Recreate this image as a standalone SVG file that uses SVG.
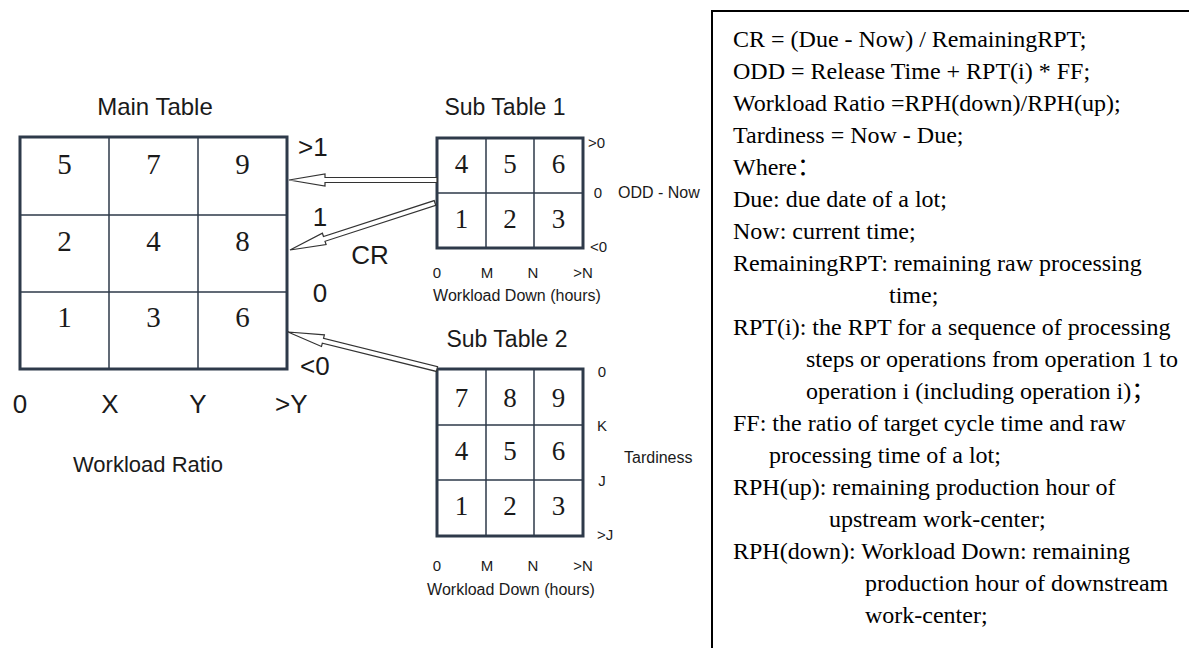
<svg xmlns="http://www.w3.org/2000/svg" width="1189" height="648" viewBox="0 0 1189 648">
<style>
.lbl{font-family:"Liberation Sans",Arial,sans-serif;fill:#1a1a1a}
.num{font-family:"Liberation Serif","Times New Roman",serif;fill:#1a1a1a;text-anchor:middle}
.frame{fill:#fff;stroke:#2e3a4a;stroke-width:3}
.grid{stroke:#2e3a4a;stroke-width:1.5;fill:none}
.arrow{fill:#fff;stroke:#333;stroke-width:1.2;stroke-linejoin:miter}
.txt{font-family:"Liberation Serif","Times New Roman","Noto Sans CJK SC",serif;font-size:24px;fill:#000}
</style>
<rect width="1189" height="648" fill="#fff"/>

<g id="main-table">
<text class="lbl" x="155" y="115" font-size="24" text-anchor="middle">Main Table</text>
<rect class="frame" x="20" y="137" width="267" height="232"/>
<path class="grid" d="M109 137V369M198 137V369M20 215H287M20 292H287"/>
<g class="num" font-size="29">
<text x="64.5" y="174">5</text><text x="153.5" y="174">7</text><text x="242.5" y="174">9</text>
<text x="64.5" y="251">2</text><text x="153.5" y="251">4</text><text x="242.5" y="251">8</text>
<text x="64.5" y="327">1</text><text x="153.5" y="327">3</text><text x="242.5" y="327">6</text>
</g>
<g class="lbl" font-size="26">
<text x="298" y="156">&gt;1</text>
<text x="320" y="226" text-anchor="middle">1</text>
<text x="370" y="264" text-anchor="middle">CR</text>
<text x="320" y="302" text-anchor="middle">0</text>
<text x="300" y="375">&lt;0</text>
<text x="20" y="413" text-anchor="middle">0</text>
<text x="110" y="413" text-anchor="middle">X</text>
<text x="198" y="413" text-anchor="middle">Y</text>
<text x="275" y="413">&gt;Y</text>
</g>
<text class="lbl" x="148" y="472" font-size="22" text-anchor="middle">Workload Ratio</text>
</g>

<g id="sub-table-1">
<text class="lbl" x="505" y="115" font-size="23" text-anchor="middle">Sub Table 1</text>
<rect class="frame" x="437" y="138" width="146" height="110"/>
<path class="grid" d="M486 138V248M534 138V248M437 193H583"/>
<g class="num" font-size="27">
<text x="461.5" y="173">4</text><text x="510" y="173">5</text><text x="558.5" y="173">6</text>
<text x="461.5" y="228">1</text><text x="510" y="228">2</text><text x="558.5" y="228">3</text>
</g>
<g class="lbl" font-size="15">
<text x="588" y="148">&gt;0</text>
<text x="598" y="198" text-anchor="middle">0</text>
<text x="618" y="198" font-size="16">ODD - Now</text>
<text x="590" y="252">&lt;0</text>
<text x="437" y="278" text-anchor="middle">0</text>
<text x="487" y="278" text-anchor="middle">M</text>
<text x="533" y="278" text-anchor="middle">N</text>
<text x="583" y="278" text-anchor="middle">&gt;N</text>
</g>
<text class="lbl" x="517" y="301" font-size="16" text-anchor="middle">Workload Down (hours)</text>
</g>

<g id="sub-table-2">
<text class="lbl" x="507" y="347" font-size="23" text-anchor="middle">Sub Table 2</text>
<rect class="frame" x="437" y="369" width="146" height="167"/>
<path class="grid" d="M486 369V536M534 369V536M437 425H583M437 480H583"/>
<g class="num" font-size="27">
<text x="461.5" y="407">7</text><text x="510" y="407">8</text><text x="558.5" y="407">9</text>
<text x="461.5" y="460">4</text><text x="510" y="460">5</text><text x="558.5" y="460">6</text>
<text x="461.5" y="515">1</text><text x="510" y="515">2</text><text x="558.5" y="515">3</text>
</g>
<g class="lbl" font-size="15">
<text x="602" y="377" text-anchor="middle">0</text>
<text x="602" y="431" text-anchor="middle">K</text>
<text x="602" y="486" text-anchor="middle">J</text>
<text x="597" y="540">&gt;J</text>
<text x="624" y="463" font-size="16">Tardiness</text>
<text x="437" y="571" text-anchor="middle">0</text>
<text x="487" y="571" text-anchor="middle">M</text>
<text x="533" y="571" text-anchor="middle">N</text>
<text x="583" y="571" text-anchor="middle">&gt;N</text>
</g>
<text class="lbl" x="511" y="595" font-size="16" text-anchor="middle">Workload Down (hours)</text>
</g>

<g id="connectors">
<polygon class="arrow" transform="translate(289,180)" points="0,0 36,-6 36,-2.5 148,-2.5 148,2.5 36,2.5 36,6"/>
<polygon class="arrow" transform="translate(290,250) rotate(-17.96)" points="0,0 36,-6 36,-2.5 152.4,-2.5 152.4,2.5 36,2.5 36,6"/>
<polygon class="arrow" transform="translate(288,332) rotate(13.95)" points="0,0 36,-6 36,-2.5 153.5,-2.5 153.5,2.5 36,2.5 36,6"/>
</g>

<g id="formula-box">
<rect x="712" y="11" width="520" height="700" fill="#fff" stroke="#000" stroke-width="2"/>
<g class="txt">
<text x="733" y="47">CR = (Due - Now) / RemainingRPT;</text>
<text x="733" y="79">ODD = Release Time + RPT(i) * FF;</text>
<text x="733" y="111">Workload Ratio =RPH(down)/RPH(up);</text>
<text x="733" y="143">Tardiness = Now - Due;</text>
<text x="733" y="175">Where：</text>
<text x="733" y="207">Due: due date of a lot;</text>
<text x="733" y="239">Now: current time;</text>
<text x="733" y="271">RemainingRPT: remaining raw processing</text>
<text x="889" y="303">time;</text>
<text x="733" y="335">RPT(i): the RPT for a sequence of processing</text>
<text x="806" y="367">steps or operations from operation 1 to</text>
<text x="806" y="399">operation i (including operation i)；</text>
<text x="733" y="431">FF: the ratio of target cycle time and raw</text>
<text x="769" y="463">processing time of a lot;</text>
<text x="733" y="495">RPH(up): remaining production hour of</text>
<text x="829" y="527">upstream work-center;</text>
<text x="733" y="559">RPH(down): Workload Down: remaining</text>
<text x="865" y="591">production hour of downstream</text>
<text x="865" y="623">work-center;</text>
</g>
</g>
</svg>
